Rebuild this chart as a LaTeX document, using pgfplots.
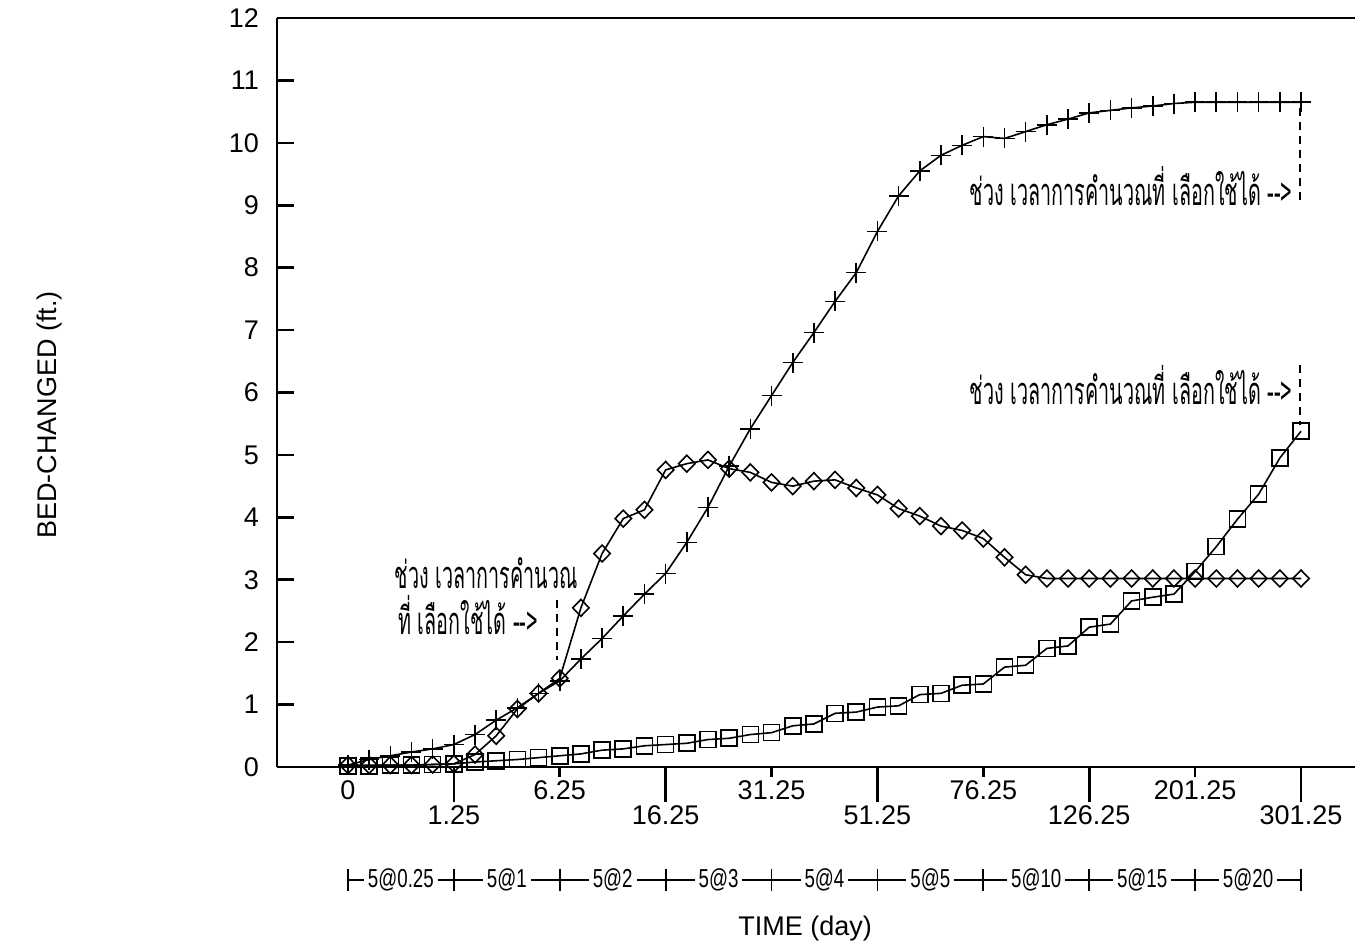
\documentclass[border=0pt]{standalone}
\usepackage{fontspec}
\setmainfont{Liberation Sans}
\newfontfamily\condfont{Liberation Sans}[FakeStretch=0.72]
\newfontfamily\thaifont{Loma}[Script=Thai, FakeStretch=0.52]
\usepackage{pgfplots}
\usepackage{pgfplotstable}
\pgfplotsset{compat=1.18}

\pgfplotstableread{
x y
0 0.03
1 0.12
2 0.18
3 0.24
4 0.29
5 0.36
6 0.52
7 0.75
8 0.95
9 1.18
10 1.38
11 1.73
12 2.06
13 2.42
14 2.77
15 3.10
16 3.60
17 4.16
18 4.82
19 5.42
20 5.95
21 6.48
22 6.96
23 7.46
24 7.92
25 8.58
26 9.15
27 9.55
28 9.80
29 9.96
30 10.10
31 10.07
32 10.18
33 10.29
34 10.38
35 10.48
36 10.52
37 10.56
38 10.59
39 10.63
40 10.65
41 10.65
42 10.65
43 10.65
44 10.65
45 10.65
}\crossdata

\pgfplotstableread{
x y
0 0.03
1 0.03
2 0.03
3 0.03
4 0.04
5 0.05
6 0.20
7 0.50
8 0.93
9 1.18
10 1.42
11 2.55
12 3.42
13 3.98
14 4.12
15 4.76
16 4.86
17 4.92
18 4.78
19 4.72
20 4.56
21 4.50
22 4.58
23 4.60
24 4.47
25 4.36
26 4.14
27 4.02
28 3.86
29 3.79
30 3.66
31 3.36
32 3.08
33 3.02
34 3.02
35 3.02
36 3.02
37 3.02
38 3.02
39 3.02
40 3.02
41 3.02
42 3.02
43 3.02
44 3.02
45 3.02
}\diamonddata

\pgfplotstableread{
x y
0 0.02
1 0.02
2 0.03
3 0.03
4 0.04
5 0.05
6 0.08
7 0.10
8 0.12
9 0.15
10 0.18
11 0.21
12 0.27
13 0.29
14 0.34
15 0.36
16 0.38
17 0.44
18 0.46
19 0.52
20 0.55
21 0.66
22 0.69
23 0.86
24 0.88
25 0.96
26 0.98
27 1.16
28 1.18
29 1.31
30 1.33
31 1.60
32 1.63
33 1.90
34 1.94
35 2.24
36 2.29
37 2.66
38 2.72
39 2.77
40 3.13
41 3.53
42 3.97
43 4.37
44 4.95
45 5.38
}\squaredata

\begin{document}
\begin{tikzpicture}
\useasboundingbox (0,0) rectangle (677.5pt,471.5pt);
\begin{axis}[
  at={(138.5pt,88pt)}, anchor=south west,
  scale only axis, width=539pt, height=374.5pt,
  xmin=-3.35, xmax=47.55, ymin=0, ymax=12,
  axis x line*=box, axis y line*=left,
  axis line style={line width=1.3pt},
  clip=false,
  font=\fontsize{13.5}{16}\selectfont,
  /pgf/number format/assume math mode=true,
  ytick={0,1,...,12}, ytick pos=left,
  tick align=inside, major tick length=8.5pt,
  tick style={line width=1.3pt, black},
  yticklabel style={anchor=east, xshift=-5.5pt},
  xtick={5,15,25,35,45}, xticklabels={1.25,16.25,51.25,126.25,301.25},
  xtick pos=bottom, xtick style={draw=none},
  xticklabel style={anchor=center, yshift=-24pt},
  extra x ticks={0,10,20,30,40},
  extra x tick labels={0,6.25,31.25,76.25,201.25},
  extra x tick style={xtick style={draw=none}, major tick length=0pt,
    xticklabel style={yshift=12.5pt}},
  every axis y label/.style={at={(rel axis cs:-0.211,0.47)}, rotate=90, anchor=center},
  ylabel={BED-CHANGED (ft.)},
  every axis x label/.style={at={(rel axis cs:0.49,-0.216)}, anchor=center},
  xlabel={TIME (day)},
]
\addplot[black, line width=0.8pt, mark=square, mark size=4pt, mark options={solid, line width=0.8pt}] table[x=x,y=y] {\squaredata};
\addplot[black, line width=0.8pt, mark=diamond, mark size=4.2pt, mark options={solid, line width=0.8pt, xscale=1.3}] table[x=x,y=y] {\diamonddata};
\addplot[black, line width=0.8pt, mark=+, mark size=5pt, mark options={solid, line width=0.8pt}] table[x=x,y=y] {\crossdata};

% manual x tick marks (outside)
\pgfplotsinvokeforeach{5,15,25,35,45}{\draw[line width=1.3pt] (axis cs:#1,0) -- ++(0pt,-17.5pt);}
\pgfplotsinvokeforeach{10,20,30,40}{\draw[line width=1.3pt] (axis cs:#1,0) -- ++(0pt,-5pt);}

% time-step scale row
\draw[line width=0.9pt] (axis cs:0,-1.81) -- (axis cs:45,-1.81);
\pgfplotsinvokeforeach{0,5,10,15,20,25,30,35,40,45}{\draw[line width=0.9pt] (axis cs:#1,-1.81) ++(0pt,-5.5pt) -- ++(0pt,11pt);}
\begin{scope}[every node/.style={fill=white, inner sep=2pt, font=\condfont\fontsize{13}{15}\selectfont}]
\node at (axis cs:2.5,-1.81) {5@0.25};
\node at (axis cs:7.5,-1.81) {5@1};
\node at (axis cs:12.5,-1.81) {5@2};
\node at (axis cs:17.5,-1.81) {5@3};
\node at (axis cs:22.5,-1.81) {5@4};
\node at (axis cs:27.5,-1.81) {5@5};
\node at (axis cs:32.5,-1.81) {5@10};
\node at (axis cs:37.5,-1.81) {5@15};
\node at (axis cs:42.5,-1.81) {5@20};
\end{scope}

% annotations
\begin{scope}[every node/.style={font=\thaifont\fontsize{19}{22}\selectfont, inner sep=0pt}]
\node[anchor=east] at (axis cs:44.6,9.30) {ช่วง เวลาการคำนวณที่ เลือกใช้ได้ -{}-{}>};
\node[anchor=east] at (axis cs:44.6,6.12) {ช่วง เวลาการคำนวณที่ เลือกใช้ได้ -{}-{}>};
\node[anchor=west] at (axis cs:2.2,3.11) {ช่วง เวลาการคำนวณ};
\node[anchor=west] at (axis cs:2.36,2.44) {ที่ เลือกใช้ได้ -{}-{}>};
\end{scope}
\draw[line width=1.3pt, dash pattern=on 4pt off 3pt] (axis cs:44.95,10.56) -- (axis cs:44.95,9.09);
\draw[line width=1.3pt, dash pattern=on 4pt off 3pt] (axis cs:44.95,6.44) -- (axis cs:44.95,5.48);
\draw[line width=1.3pt, dash pattern=on 4pt off 3pt] (axis cs:9.87,2.68) -- (axis cs:9.87,1.71);
\end{axis}
\end{tikzpicture}
\end{document}
